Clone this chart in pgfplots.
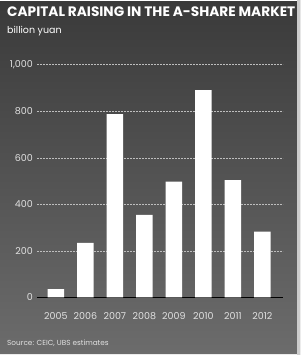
\documentclass[border=0pt]{standalone}
\usepackage{pgfplots}
\pgfplotsset{compat=1.18}
\usepackage{fontspec}
\setmainfont{Poppins}
\definecolor{bgtop}{RGB}{58,58,58}
\definecolor{bgbot}{RGB}{108,108,108}
\definecolor{ticklab}{RGB}{225,225,225}
\definecolor{gridc}{RGB}{190,190,190}
\begin{document}
\begin{tikzpicture}[x=1pt,y=1pt]
\shade[top color=bgtop, bottom color=bgbot] (0,0) rectangle (300,355);
\fill[white] (0,354) rectangle (300,355);
\fill[white!85!gray] (0,0) rectangle (300,1);
\fill[gray!40] (297,0) rectangle (300,355);
\node[anchor=west, text=white, font=\fontsize{13.7}{14}\selectfont\bfseries, inner sep=0pt] at (7,343) {CAPITAL RAISING IN THE A-SHARE MARKET};
\node[anchor=west, text=white, font=\fontsize{9.5}{11}\selectfont, inner sep=0pt] at (7,324) {billion yuan};
\node[anchor=west, text=ticklab, font=\fontsize{7.3}{8}\selectfont, inner sep=0pt] at (7,12) {Source: CEIC, UBS estimates};
\begin{axis}[
  at={(37pt,57.5pt)}, anchor=south west,
  scale only axis, width=246pt, height=232.8pt,
  xmin=-0.64, xmax=7.7, ymin=0, ymax=1000,
  axis line style={draw=none},
  major tick length=0pt,
  xtick={0,...,7},
  xticklabels={2005,2006,2007,2008,2009,2010,2011,2012},
  ytick={200,400,600,800,1000},
  extra y ticks={0},
  extra y tick style={grid style={black, solid, line width=0.9pt}},
  ymajorgrids,
  grid style={gridc, line width=0.6pt, dash pattern=on 2pt off 1pt},
  /pgf/number format/assume math mode=true,
  /pgf/number format/1000 sep={,},
  tick label style={text=ticklab, font=\fontsize{9.5}{10}\selectfont},
  yticklabel style={inner sep=0pt, xshift=-4pt},
  xticklabel style={inner sep=0pt, yshift=-15pt},
  clip=false,
]
\addplot[ybar, bar width=16.7pt, fill=white, draw=none] coordinates {
(0,36) (1,235) (2,788) (3,355) (4,498) (5,891) (6,504) (7,283)};
\end{axis}
\end{tikzpicture}
\end{document}
